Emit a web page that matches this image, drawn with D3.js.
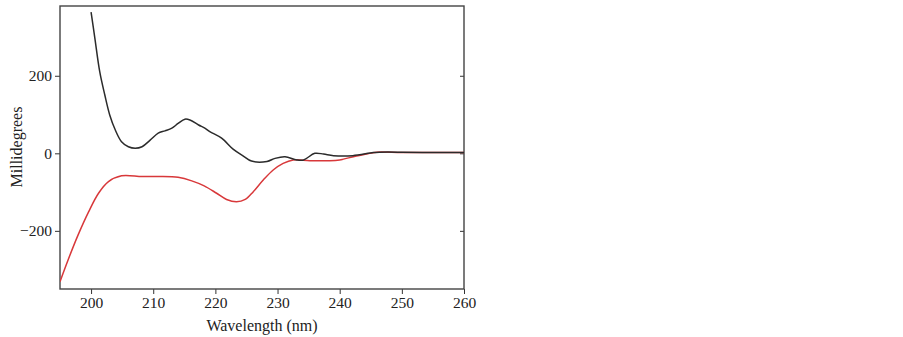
<!DOCTYPE html>
<html lang="en">
<head>
<meta charset="UTF-8">
<title>CD spectrum</title>
<style>
    body { margin: 0; background: #fff; }
    svg text { font-family: "Liberation Serif", "DejaVu Serif", serif; fill: #222; }
</style>
</head>
<body>
<svg id="chart" width="903" height="337"></svg>
<script src="https://cdn.jsdelivr.net/npm/d3@7"></script>
<script>
    // black trace (sample)
    var blackWl = [200, 200.6, 201.4, 202.2, 203, 203.9, 204.9, 206, 207.1, 208.2, 209.5, 210.8, 211.9, 213, 214, 215.1, 215.9, 217.3, 218.3, 219.1, 221, 222.9, 224.5, 225.8, 228.3, 229.6, 231.2, 233.1, 234.2, 236, 237.4, 239, 242.1, 245.4, 246.5, 250, 255, 260];
    var blackMdeg = [364, 298, 210, 151, 99, 60, 30, 17, 13, 17, 34, 52, 58, 65, 77, 88, 86, 73, 65, 56, 39, 10, -7, -20, -21, -13, -9, -17, -17, 0, -2, -6, -6, 2, 3, 3, 2, 2];
    // red trace
    var redWl = [195, 196.3, 197.9, 199.6, 201.2, 202.8, 204.9, 208.2, 210.8, 214, 216.2, 218.2, 220.2, 221.8, 223.4, 224.8, 226.1, 227.7, 229.3, 230.9, 232.5, 235.2, 238.4, 240, 240.6, 242.7, 244.3, 245.9, 250, 255, 260];
    var redMdeg = [-331, -275, -211, -151, -103, -73, -58, -60, -60, -62, -71, -84, -103, -119, -125, -119, -99, -69, -43, -26, -17, -19, -19, -17, -15, -7, -2, 3, 2, 2, 2];

    var xTicks = [200, 210, 220, 230, 240, 250, 260];
    var yTicks = [-200, 0, 200];

    // plot box
    var pL = 60, pR = 464, pT = 6, pB = 289;

    var svg = d3.select("#chart");

    var x = d3.scaleLinear().domain([195, 260]).range([pL, pR]);
    var y = d3.scaleLinear().domain([-350, 380]).range([pB, pT]);

    svg.append("clipPath").attr("id", "clip")
        .append("rect")
        .attr("x", pL).attr("y", pT)
        .attr("width", pR - pL).attr("height", pB - pT);

    // axes
    var gx = svg.append("g")
        .attr("transform", "translate(0," + pB + ")")
        .call(d3.axisBottom(x).tickValues(xTicks).tickSize(5).tickPadding(3));
    var gy = svg.append("g")
        .attr("transform", "translate(" + pL + ",0)")
        .call(d3.axisLeft(y).tickValues(yTicks).tickSize(5).tickPadding(3)
            .tickFormat(function (d) { return d < 0 ? "\u2212" + Math.abs(d) : d; }));
    var gr = svg.append("g")
        .attr("transform", "translate(" + pR + ",0)")
        .call(d3.axisLeft(y).tickValues(yTicks).tickSize(4).tickFormat(""));

    [gx, gy, gr].forEach(function (g) {
        g.select(".domain").remove();
        g.selectAll("line").attr("stroke", "#333");
        g.selectAll("text").attr("font-size", 15.5).attr("font-family", "Liberation Serif").attr("fill", "#222");
    });

    // frame
    svg.append("rect")
        .attr("x", pL).attr("y", pT)
        .attr("width", pR - pL).attr("height", pB - pT)
        .attr("fill", "none").attr("stroke", "#444").attr("stroke-width", 1.4);

    var line = d3.line()
        .x(function (d) { return x(d[0]); })
        .y(function (d) { return y(d[1]); })
        .curve(d3.curveCatmullRom.alpha(0.5));

    svg.append("path")
        .datum(d3.zip(redWl, redMdeg))
        .attr("clip-path", "url(#clip)")
        .attr("fill", "none")
        .attr("stroke", "#d8383a")
        .attr("stroke-width", 1.5)
        .attr("d", line);

    svg.append("path")
        .datum(d3.zip(blackWl, blackMdeg))
        .attr("clip-path", "url(#clip)")
        .attr("fill", "none")
        .attr("stroke", "#2b2b2b")
        .attr("stroke-width", 1.5)
        .attr("d", line);

    // labels
    svg.append("text")
        .attr("x", (pL + pR) / 2).attr("y", 331)
        .attr("text-anchor", "middle")
        .attr("font-size", 16)
        .text("Wavelength (nm)");

    svg.append("text")
        .attr("transform", "translate(22," + 147 + ") rotate(-90)")
        .attr("text-anchor", "middle")
        .attr("font-size", 16)
        .text("Millidegrees");
</script>
</body>
</html>
